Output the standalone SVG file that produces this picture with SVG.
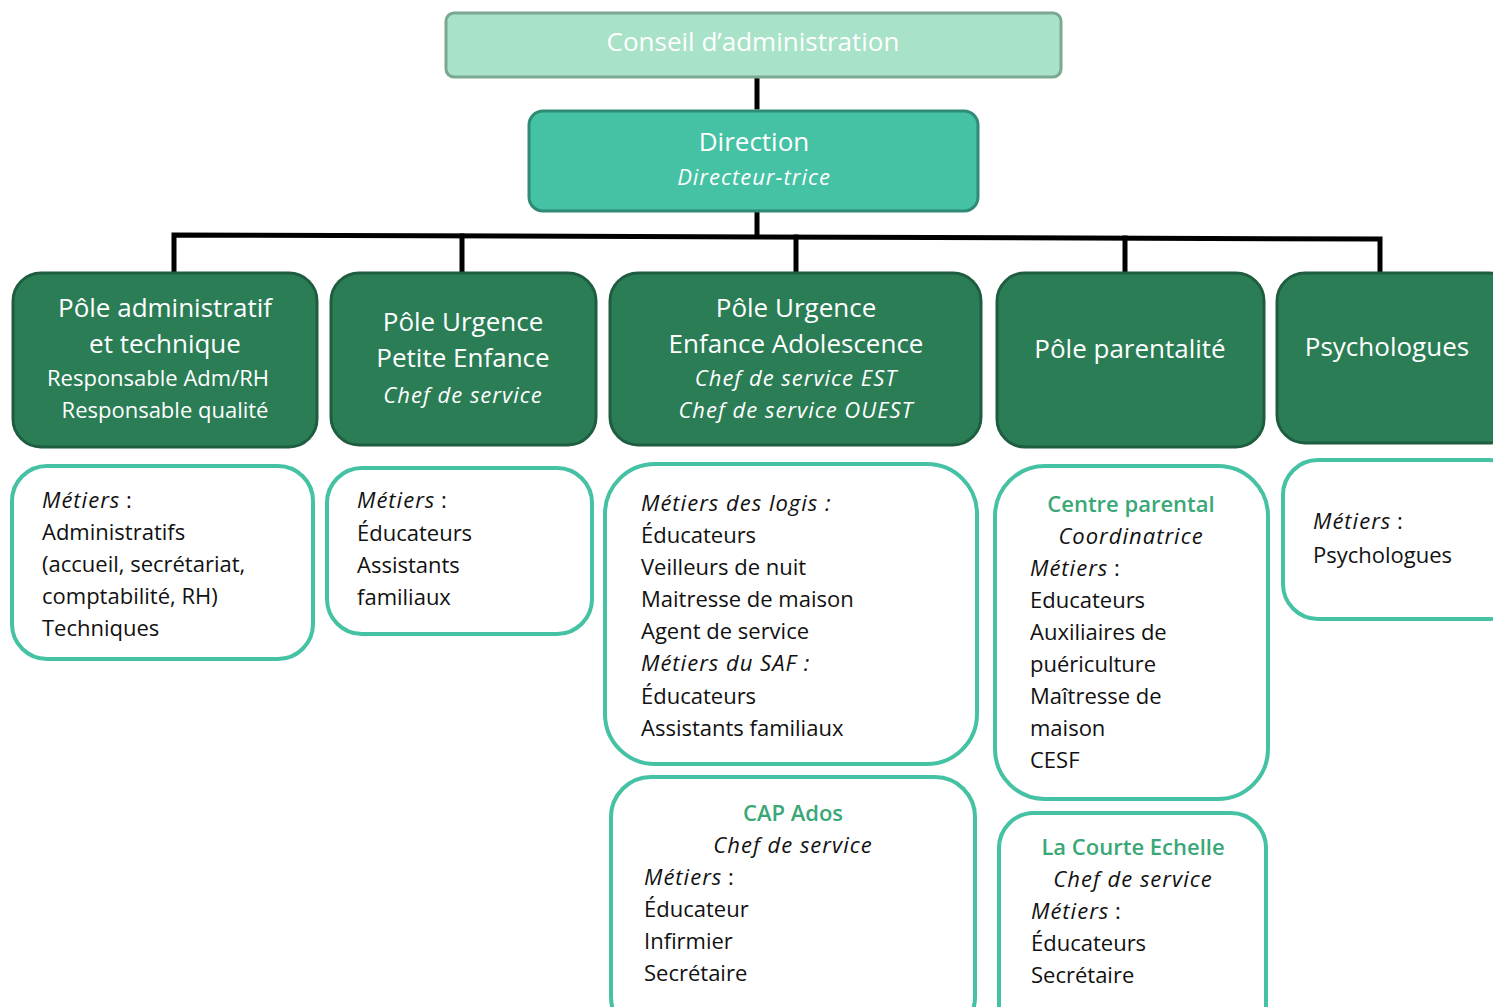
<svg xmlns="http://www.w3.org/2000/svg" width="1493" height="1007" viewBox="0 0 1493 1007">
<style>
text{font-family:"Open Sans","Liberation Sans",Arial,sans-serif}
.w{fill:#ffffff}
.k{fill:#111111;font-size:22px}
.h{font-size:26px}
.s{font-size:22px}
.i{font-style:italic;letter-spacing:1px}
.c{text-anchor:middle}
.g{fill:#3aa876;font-weight:600;font-size:22px}
.pole{fill:#2a7d55;stroke:#1f5d40;stroke-width:3}
.met{fill:#ffffff;stroke:#45c1a3;stroke-width:4}
.conn{stroke:#000;stroke-width:5;fill:none;stroke-linecap:square}
</style>
<rect width="1493" height="1007" fill="#ffffff"/>
<g id="connectors">
<path class="conn" d="M757 78 V107"/>
<path class="conn" d="M757 212 V235"/>
<path class="conn" d="M174 272 V235 L1380 239 V272"/>
<path class="conn" d="M462 236 V272"/>
<path class="conn" d="M796 237 V272"/>
<path class="conn" d="M1125 238 V272"/>
</g>
<g id="conseil">
<rect x="446" y="13" width="615" height="64" rx="8" fill="#a8e2c8" stroke="#7ba891" stroke-width="3"/>
<text class="w h c" x="753" y="51">Conseil d’administration</text>
</g>
<g id="direction">
<rect x="529" y="111" width="449" height="100" rx="14" fill="#45c1a3" stroke="#2f8b76" stroke-width="3"/>
<text class="w h c" x="754" y="151">Direction</text>
<text class="w s i c" x="754" y="185">Directeur-trice</text>
</g>
<g id="pole-admin">
<rect class="pole" x="13" y="273" width="304" height="174" rx="28"/>
<text class="w h c" x="165" y="317">Pôle administratif</text>
<text class="w h c" x="165" y="353">et technique</text>
<text class="w s c" x="158" y="386">Responsable Adm/RH</text>
<text class="w s c" x="165" y="418">Responsable qualité</text>
</g>
<g id="pole-petite-enfance">
<rect class="pole" x="331" y="273" width="265" height="172" rx="28"/>
<text class="w h c" x="463" y="331">Pôle Urgence</text>
<text class="w h c" x="463" y="367">Petite Enfance</text>
<text class="w s i c" x="463" y="403">Chef de service</text>
</g>
<g id="pole-enfance-ado">
<rect class="pole" x="610" y="273" width="371" height="172" rx="28"/>
<text class="w h c" x="796" y="317">Pôle Urgence</text>
<text class="w h c" x="796" y="353">Enfance Adolescence</text>
<text class="w s i c" x="796" y="386">Chef de service EST</text>
<text class="w s i c" x="796" y="418">Chef de service OUEST</text>
</g>
<g id="pole-parentalite">
<rect class="pole" x="997" y="273" width="267" height="174" rx="28"/>
<text class="w h c" x="1130" y="358">Pôle parentalité</text>
</g>
<g id="psychologues">
<rect class="pole" x="1277" y="273" width="240" height="170" rx="28"/>
<text class="w h c" x="1387" y="356">Psychologues</text>
</g>
<g id="metiers-admin">
<rect class="met" x="12" y="466" width="301" height="193" rx="35"/>
<text class="k" x="42" y="508"><tspan class="i">Métiers</tspan> :</text>
<text class="k" x="42" y="540">Administratifs</text>
<text class="k" x="42" y="572">(accueil, secrétariat,</text>
<text class="k" x="42" y="604">comptabilité, RH)</text>
<text class="k" x="42" y="636">Techniques</text>
</g>
<g id="metiers-petite-enfance">
<rect class="met" x="327" y="468" width="265" height="166" rx="35"/>
<text class="k" x="357" y="508"><tspan class="i">Métiers</tspan> :</text>
<text class="k" x="357" y="541">Éducateurs</text>
<text class="k" x="357" y="573">Assistants</text>
<text class="k" x="357" y="605">familiaux</text>
</g>
<g id="metiers-enfance-ado">
<rect class="met" x="605" y="464" width="372" height="300" rx="50"/>
<text class="k i" x="641" y="511">Métiers des logis :</text>
<text class="k" x="641" y="543">Éducateurs</text>
<text class="k" x="641" y="575">Veilleurs de nuit</text>
<text class="k" x="641" y="607">Maitresse de maison</text>
<text class="k" x="641" y="639">Agent de service</text>
<text class="k i" x="641" y="671">Métiers du SAF :</text>
<text class="k" x="641" y="704">Éducateurs</text>
<text class="k" x="641" y="736">Assistants familiaux</text>
</g>
<g id="centre-parental">
<rect class="met" x="995" y="466" width="273" height="333" rx="50"/>
<text class="g c" x="1131" y="512">Centre parental</text>
<text class="k i c" x="1131" y="544">Coordinatrice</text>
<text class="k" x="1030" y="576"><tspan class="i">Métiers</tspan> :</text>
<text class="k" x="1030" y="608">Educateurs</text>
<text class="k" x="1030" y="640">Auxiliaires de</text>
<text class="k" x="1030" y="672">puériculture</text>
<text class="k" x="1030" y="704">Maîtresse de</text>
<text class="k" x="1030" y="736">maison</text>
<text class="k" x="1030" y="768">CESF</text>
</g>
<g id="metiers-psychologues">
<rect class="met" x="1283" y="460" width="240" height="159" rx="35"/>
<text class="k" x="1313" y="529"><tspan class="i">Métiers</tspan> :</text>
<text class="k" x="1313" y="563">Psychologues</text>
</g>
<g id="cap-ados">
<rect class="met" x="611" y="777" width="364" height="260" rx="40"/>
<text class="g c" x="793" y="821">CAP Ados</text>
<text class="k i c" x="793" y="853">Chef de service</text>
<text class="k" x="644" y="885"><tspan class="i">Métiers</tspan> :</text>
<text class="k" x="644" y="917">Éducateur</text>
<text class="k" x="644" y="949">Infirmier</text>
<text class="k" x="644" y="981">Secrétaire</text>
</g>
<g id="la-courte-echelle">
<rect class="met" x="999" y="813" width="267" height="230" rx="35"/>
<text class="g c" x="1133" y="855">La Courte Echelle</text>
<text class="k i c" x="1133" y="887">Chef de service</text>
<text class="k" x="1031" y="919"><tspan class="i">Métiers</tspan> :</text>
<text class="k" x="1031" y="951">Éducateurs</text>
<text class="k" x="1031" y="983">Secrétaire</text>
</g>
</svg>
